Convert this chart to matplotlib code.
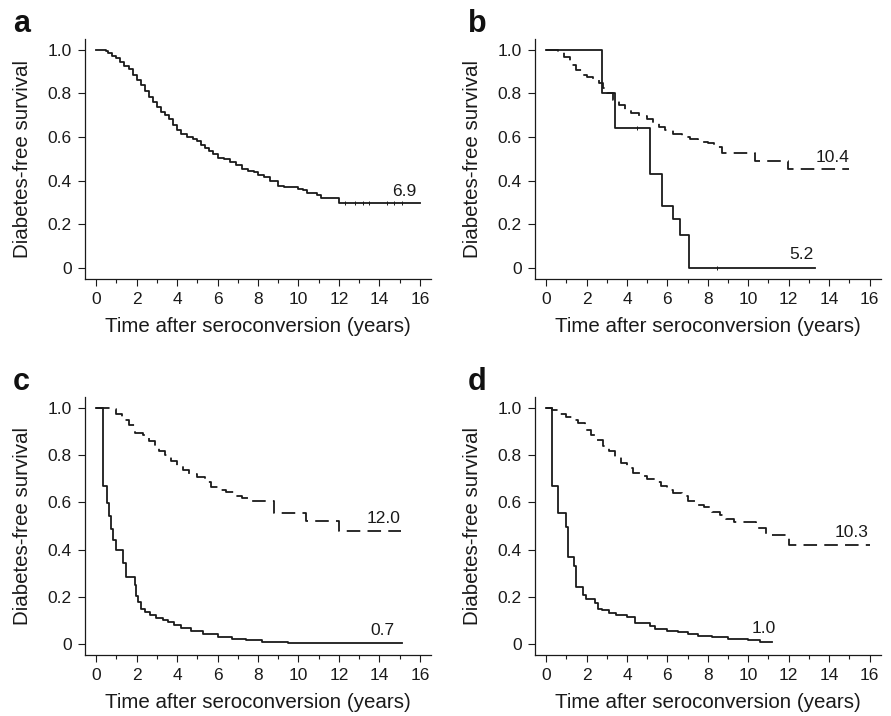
import matplotlib
matplotlib.use("Agg")
import matplotlib.pyplot as plt

plt.rcParams['font.family'] = ['Liberation Sans', 'DejaVu Sans']

# ---------------- data ----------------
# Panel a: single curve
a_t = [0, 0.5, 0.6, 0.8, 1.0, 1.2, 1.4, 1.6, 1.8, 2.0, 2.2, 2.4, 2.6, 2.8, 3.0, 3.2, 3.4, 3.6, 3.8,
       4.0, 4.2, 4.5, 4.8, 5.0, 5.2, 5.4, 5.6, 5.8, 6.0, 6.3, 6.6, 6.9, 7.2, 7.5, 7.8, 8.0, 8.3, 8.6,
       9.0, 9.3, 9.7, 10.0, 10.2, 10.4, 10.9, 11.1, 12.0, 16.0]
a_s = [1.0, 0.995, 0.985, 0.97, 0.96, 0.945, 0.925, 0.91, 0.885, 0.86, 0.84, 0.81, 0.785, 0.76, 0.735,
       0.715, 0.70, 0.68, 0.655, 0.63, 0.615, 0.60, 0.59, 0.58, 0.565, 0.55, 0.535, 0.52, 0.505, 0.50,
       0.485, 0.47, 0.455, 0.445, 0.44, 0.425, 0.415, 0.40, 0.375, 0.372, 0.37, 0.36, 0.355, 0.345,
       0.335, 0.32, 0.295, 0.295]
a_cens_t = [12.3, 12.8, 13.2, 13.5, 14.4, 14.7, 15.1]
a_cens_s = [0.295, 0.295, 0.295, 0.295, 0.295, 0.295, 0.295]

# Panel b
b_solid_t = [0, 2.77, 3.41, 5.14, 5.74, 6.30, 6.63, 7.08, 13.28]
b_solid_s = [1.0, 0.80, 0.64, 0.428, 0.283, 0.226, 0.15, 0.0, 0.0]
b_dash_t = [0, 0.6, 0.9, 1.2, 1.5, 1.8, 2.0, 2.3, 2.6, 2.8, 3.0, 3.3, 3.6, 3.9, 4.2, 4.6, 5.0, 5.3,
            5.6, 5.9, 6.3, 6.7, 7.1, 7.5, 8.0, 8.3, 8.7, 10.35, 11.95, 15.0]
b_dash_s = [1.0, 0.99, 0.965, 0.93, 0.905, 0.885, 0.875, 0.86, 0.845, 0.825, 0.80, 0.77, 0.745, 0.725,
            0.71, 0.695, 0.68, 0.665, 0.645, 0.63, 0.615, 0.60, 0.59, 0.578, 0.573, 0.555, 0.525,
            0.488, 0.455, 0.455]
b_cens_t = [4.48, 8.43]
b_cens_s = [0.64, 0.0]

# Panel c
c_solid_t = [0, 0.33, 0.53, 0.62, 0.72, 0.82, 0.99, 1.32, 1.49, 1.9, 1.97, 2.05, 2.2, 2.4, 2.65,
             2.95, 3.3, 3.55, 3.85, 4.2, 4.7, 5.3, 6.0, 6.7, 7.4, 8.2, 9.5, 10.5, 15.1]
c_solid_s = [1.0, 0.667, 0.595, 0.54, 0.485, 0.44, 0.40, 0.342, 0.285, 0.25, 0.205, 0.18, 0.15,
             0.135, 0.122, 0.109, 0.102, 0.095, 0.082, 0.068, 0.054, 0.042, 0.031, 0.023, 0.016,
             0.008, 0.005, 0.003, 0.003]
c_dash_t = [0, 0.7, 1.0, 1.3, 1.6, 1.9, 2.3, 2.6, 2.9, 3.1, 3.4, 3.7, 4.0, 4.3, 4.6, 5.0, 5.4, 5.7,
            6.0, 6.4, 6.8, 7.2, 7.7, 8.8, 10.35, 12.0, 15.05]
c_dash_s = [1.0, 0.995, 0.975, 0.95, 0.925, 0.895, 0.885, 0.86, 0.84, 0.815, 0.80, 0.775, 0.755,
            0.735, 0.72, 0.705, 0.685, 0.665, 0.65, 0.645, 0.628, 0.62, 0.605, 0.555, 0.52, 0.48, 0.48]

# Panel d
d_solid_t = [0, 0.27, 0.58, 1.0, 1.06, 1.4, 1.46, 1.8, 1.95, 2.42, 2.58, 2.75, 3.1, 3.45, 4.0, 4.4,
             5.15, 5.4, 6.0, 6.5, 7.0, 7.5, 8.2, 9.0, 10.0, 10.6, 11.15]
d_solid_s = [1.0, 0.667, 0.556, 0.495, 0.37, 0.33, 0.24, 0.208, 0.19, 0.172, 0.15, 0.143, 0.13,
             0.122, 0.115, 0.089, 0.075, 0.065, 0.056, 0.05, 0.044, 0.036, 0.028, 0.02, 0.017,
             0.008, 0.008]
d_dash_t = [0, 0.3, 0.7, 1.0, 1.3, 1.6, 1.9, 2.2, 2.5, 2.8, 3.1, 3.4, 3.7, 4.0, 4.3, 4.7, 5.0, 5.4,
            5.7, 6.0, 6.3, 6.7, 7.0, 7.4, 7.8, 8.2, 8.6, 8.9, 9.3, 10.4, 10.9, 12.0, 16.0]
d_dash_s = [1.0, 0.99, 0.975, 0.962, 0.95, 0.935, 0.905, 0.885, 0.865, 0.84, 0.815, 0.79, 0.765,
            0.745, 0.725, 0.71, 0.70, 0.685, 0.67, 0.653, 0.64, 0.625, 0.605, 0.59, 0.58, 0.56,
            0.545, 0.53, 0.515, 0.49, 0.46, 0.418, 0.418]

# annotations (text, x, y)
a_notes = [("6.9", 15.85, 0.33)]
b_notes = [("10.4", 15.0, 0.483), ("5.2", 13.25, 0.041)]
c_notes = [("12.0", 15.05, 0.512), ("0.7", 14.77, 0.039)]
d_notes = [("10.3", 15.95, 0.453), ("1.0", 11.36, 0.047)]

x_ticks = [0, 2, 4, 6, 8, 10, 12, 14, 16]
x_minor = [1, 3, 5, 7, 9, 11, 13, 15]
y_ticks = [0, 0.2, 0.4, 0.6, 0.8, 1.0]
y_ticklabels = ["0", "0.2", "0.4", "0.6", "0.8", "1.0"]
panel_letters = ["a", "b", "c", "d"]
xlabel = "Time after seroconversion (years)"
ylabel = "Diabetes-free survival"

# ---------------- figure ----------------
W, H = 891, 716
fig = plt.figure(figsize=(W / 100, H / 100), dpi=100)

def px_axes(x0, x1, ytop, ybot):
    return [x0 / W, 1 - ybot / H, (x1 - x0) / W, (ybot - ytop) / H]

ax_a = fig.add_axes(px_axes(85, 431, 39, 278.7))
ax_b = fig.add_axes(px_axes(535, 880.7, 39, 278.7))
ax_c = fig.add_axes(px_axes(85, 431, 397.3, 654.7))
ax_d = fig.add_axes(px_axes(535, 880.7, 397.3, 654.7))

LW = 1.3
DASH = (0, (7.5, 4))
INK = "#1a1a1a"

def style(ax, ylim):
    ax.set_xlim(-0.55, 16.55)
    ax.set_ylim(*ylim)
    for s in ("top", "right"):
        ax.spines[s].set_visible(False)
    for s in ("left", "bottom"):
        ax.spines[s].set_linewidth(0.9)
        ax.spines[s].set_color(INK)
    ax.set_xticks(x_ticks)
    ax.set_xticks(x_minor, minor=True)
    ax.set_yticks(y_ticks)
    ax.set_yticklabels(y_ticklabels)
    ax.tick_params(axis="both", which="major", direction="out", length=5, width=0.8,
                   labelsize=12.5, pad=4.5, color=INK, labelcolor=INK)
    ax.tick_params(axis="x", which="minor", direction="out", length=3, width=0.8, color=INK)
    ax.set_xlabel(xlabel, fontsize=14.8, color=INK, labelpad=7)
    ax.set_ylabel(ylabel, fontsize=14.8, color=INK, labelpad=11)

def notes(ax, items):
    for txt, x, y in items:
        ax.text(x, y, txt, ha="right", va="baseline", fontsize=12.5, color=INK)

# a
ax_a.step(a_t, a_s, where="post", color=INK, lw=LW)
ax_a.plot(a_cens_t, a_cens_s, ls="none", marker="|", ms=3, mew=0.7, color=INK)
style(ax_a, (-0.05, 1.049))
notes(ax_a, a_notes)

# b
ax_b.step(b_dash_t, b_dash_s, where="post", color=INK, lw=LW, ls=DASH)
ax_b.step(b_solid_t, b_solid_s, where="post", color=INK, lw=LW)
ax_b.plot(b_cens_t, b_cens_s, ls="none", marker="|", ms=3, mew=0.7, color=INK)
style(ax_b, (-0.05, 1.049))
notes(ax_b, b_notes)

# c
ax_c.step(c_dash_t, c_dash_s, where="post", color=INK, lw=LW, ls=DASH)
ax_c.step(c_solid_t, c_solid_s, where="post", color=INK, lw=LW)
style(ax_c, (-0.045, 1.044))
notes(ax_c, c_notes)

# d
ax_d.step(d_dash_t, d_dash_s, where="post", color=INK, lw=LW, ls=DASH)
ax_d.step(d_solid_t, d_solid_s, where="post", color=INK, lw=LW)
style(ax_d, (-0.045, 1.044))
notes(ax_d, d_notes)

# panel letters
letter_pos = [(13, 31.7), (468, 31.7), (13, 389.7), (468, 390.5)]
for lt, (x, y) in zip(panel_letters, letter_pos):
    fig.text(x / W, 1 - y / H, lt, fontsize=22, fontweight="bold", ha="left", va="baseline",
             color="#111111")

fig.savefig("out.png", dpi=100)
